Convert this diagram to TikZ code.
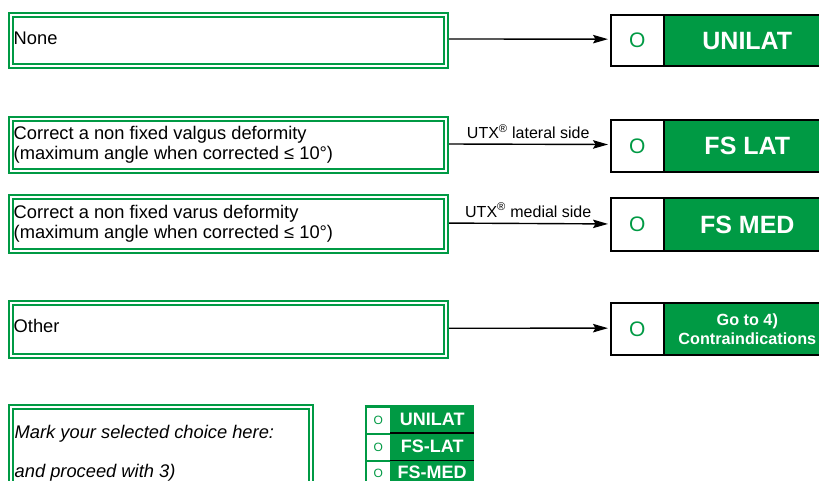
\documentclass[tikz,border=0pt]{standalone}
\usepackage{fontspec}
\setmainfont{Liberation Sans}
\usetikzlibrary{arrows.meta}
\definecolor{fsgreen}{RGB}{0,154,68}
\tikzset{
  dbox/.style={draw=fsgreen, line width=2pt, double=white, double distance=2pt, inner sep=0pt, anchor=north west},
  txt/.style={inner sep=0pt, anchor=base west, font=\fontsize{18.3}{21}\selectfont},
  itxt/.style={txt, font=\fontsize{18.3}{21}\selectfont\itshape},
  ocell/.style={draw=black, line width=2pt, fill=white, inner sep=0pt, anchor=north west, minimum width=53.8pt, text=fsgreen, font=\fontsize{21}{23}\selectfont},
  gcell/.style={draw=black, line width=2pt, fill=fsgreen, inner sep=0pt, anchor=north west, minimum width=166pt, text=white, font=\fontsize{25}{28}\selectfont\bfseries},
  arr/.style={-{Stealth[length=15pt, width=8.5pt, inset=2.5pt]}, line width=1.4pt, shorten <=2pt, shorten >=1.5pt},
  albl/.style={midway, above, inner sep=0pt, yshift=4.5pt, font=\fontsize{16}{18}\selectfont},
  socell/.style={draw=fsgreen, line width=2pt, fill=white, inner sep=0pt, anchor=north west, minimum width=25.5pt, text=fsgreen, font=\fontsize{12}{13}\selectfont},
  slcell/.style={fill=fsgreen, inner sep=0pt, anchor=north west, minimum width=84pt, text=white, font=\fontsize{18}{19}\selectfont\bfseries},
}
\begin{document}
\begin{tikzpicture}[x=1pt, y=-1pt]
\useasboundingbox (0,0) rectangle (819,481);
\fill[white] (0,0) rectangle (819,481);

% question boxes
\node[dbox, minimum width=435pt, minimum height=51pt] (q1) at (10,14) {};
\node[dbox, minimum width=435pt, minimum height=52pt] (q2) at (10,118.5) {};
\node[dbox, minimum width=435pt, minimum height=53.5pt] (q3) at (10,196) {};
\node[dbox, minimum width=435pt, minimum height=52.5pt] (q4) at (10,302) {};
\node[dbox, minimum width=300pt, minimum height=100pt] (q5) at (10,406) {};

\node[txt] (t1) at (13.5,45) {None};
\node[txt] (t2a) at (13.5,139.3) {Correct a non fixed valgus deformity};
\node[txt] (t2b) at (13.5,160) {(maximum angle when corrected ≤ 10°)};
\node[txt] (t3a) at (13.5,218.3) {Correct a non fixed varus deformity};
\node[txt] (t3b) at (13.5,238.8) {(maximum angle when corrected ≤ 10°)};
\node[txt] (t4) at (13.5,332.7) {Other};
\node[itxt] (t5a) at (14.5,438.3) {Mark your selected choice here:};
\node[itxt] (t5b) at (14.5,477.3) {and proceed with 3)};

% result boxes
\node[ocell, minimum height=51.3pt] (o1) at (609.5,14) {O};
\node[gcell, minimum height=51.3pt] (r1) at (663.3,14) {UNILAT};
\node[ocell, minimum height=52pt] (o2) at (609.5,119) {O};
\node[gcell, minimum height=52pt] (r2) at (663.3,119) {FS LAT};
\node[ocell, minimum height=52.7pt] (o3) at (609.5,197.3) {O};
\node[gcell, minimum height=52.7pt] (r3) at (663.3,197.3) {FS MED};
\node[ocell, minimum height=51.7pt] (o4) at (609.5,302.3) {O};
\node[gcell, minimum height=51.7pt, align=center, font=\fontsize{16.2}{19.5}\selectfont\bfseries] (r4) at (663.3,302.3) {Go to 4)\\Contraindications};

% arrows
\draw[arr] ([yshift=1.5pt]q1.east) -- ([yshift=1.5pt]o1.west);
\draw[arr] ([yshift=1.5pt]q2.east) -- ([yshift=1.5pt]o2.west) node[albl] (l2) {UTX\textsuperscript{®} lateral side};
\draw[arr] ([yshift=0.7pt]q3.east) -- ([yshift=0.7pt]o3.west) node[albl, yshift=1pt] (l3) {UTX\textsuperscript{®} medial side};
\draw[arr] ([yshift=1pt]q4.east) -- ([yshift=1pt]o4.west);

% small selection table
\node[slcell, minimum height=26.5pt] (sl1) at (390,406) {UNILAT};
\node[slcell, minimum height=27.5pt] (sl2) at (390,432.5) {FS-LAT};
\node[slcell, minimum height=24pt] (sl3) at (390,460) {FS-MED};
\node[socell, minimum height=26.5pt] (so1) at (364.5,406) {O};
\node[socell, minimum height=27.5pt] (so2) at (364.5,432.5) {O};
\node[socell, minimum height=24pt] (so3) at (364.5,460) {O};
\draw[fsgreen, line width=2pt] (so1.north west) -- (sl1.north east);
\draw[black, line width=1.6pt] (sl1.south west) -- (sl1.south east);
\draw[black, line width=1.6pt] (sl2.south west) -- (sl2.south east);
\end{tikzpicture}
\end{document}
